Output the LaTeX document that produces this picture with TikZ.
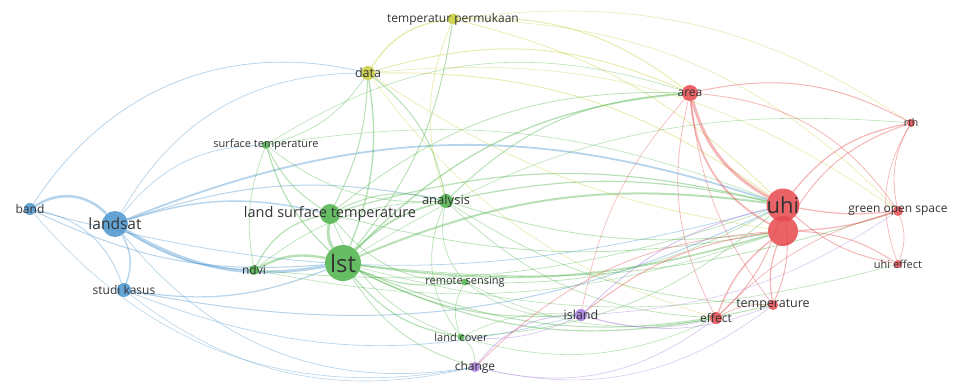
\documentclass[tikz,border=0pt]{standalone}
\usepackage{fontspec}
\setmainfont{Open Sans}
\usetikzlibrary{backgrounds}
\definecolor{cred}{RGB}{229,72,76}
\definecolor{cgreen}{RGB}{76,178,72}
\definecolor{cblue}{RGB}{72,148,206}
\definecolor{cyellow}{RGB}{200,204,54}
\definecolor{cpurple}{RGB}{164,120,222}
\begin{document}
\begin{tikzpicture}[
		x=1pt,y=-1pt,
		kw/.style={circle,inner sep=0pt,draw=none,fill opacity=0.85},
		lbl/.style={text=black!80,inner sep=0pt},
		link/.style={draw opacity=0.4}
	]
		\useasboundingbox (0,0) rectangle (953,388);
		% blue cluster
		\node[kw,fill=cblue,minimum size=12,label={[lbl,font=\fontsize{12}{12}\selectfont]center:band}] (band) at (30,209) {};
		\node[kw,fill=cblue,minimum size=26,label={[lbl,font=\fontsize{15.5}{15}\selectfont]center:landsat}] (landsat) at (115,224) {};
		\node[kw,fill=cblue,minimum size=14,label={[lbl,font=\fontsize{12}{12}\selectfont]center:studi kasus}] (studikasus) at (124,290) {};
		% green cluster
		\node[kw,fill=cgreen,minimum size=8,label={[lbl,font=\fontsize{11}{11}\selectfont]center:surface temperature}] (surftemp) at (266,145) {};
		\node[kw,fill=cgreen,minimum size=20,label={[lbl,font=\fontsize{14.5}{14}\selectfont]center:land surface temperature}] (lsttemp) at (330,214) {};
		\node[kw,fill=cgreen,minimum size=36,label={[lbl,font=\fontsize{24}{24}\selectfont]center:lst}] (lst) at (343,263) {};
		\node[kw,fill=cgreen,minimum size=10,label={[lbl,font=\fontsize{12}{12}\selectfont]center:ndvi}] (ndvi) at (254,270) {};
		\node[kw,fill=cgreen,minimum size=14,label={[lbl,font=\fontsize{13}{13}\selectfont]center:analysis}] (analysis) at (446,201) {};
		\node[kw,fill=cgreen,minimum size=7,label={[lbl,font=\fontsize{11}{11}\selectfont]center:remote sensing}] (remotesensing) at (465,282) {};
		\node[kw,fill=cgreen,minimum size=7,label={[lbl,font=\fontsize{11}{11}\selectfont]center:land cover}] (landcover) at (461,337) {};
		% yellow cluster
		\node[kw,fill=cyellow,minimum size=14,label={[lbl,font=\fontsize{12.5}{12}\selectfont]center:data}] (data) at (368,73) {};
		\node[kw,fill=cyellow,minimum size=11,label={[lbl,font=\fontsize{12}{12}\selectfont]center:temperatur permukaan}] (tempperm) at (453,19) {};
		% purple cluster
		\node[kw,fill=cpurple,minimum size=10,label={[lbl,font=\fontsize{12}{12}\selectfont]center:change}] (change) at (475,367) {};
		\node[kw,fill=cpurple,minimum size=12,label={[lbl,font=\fontsize{12.5}{12}\selectfont]center:island}] (island) at (581,315) {};
		% red cluster
		\node[kw,fill=cred,minimum size=16,label={[lbl,font=\fontsize{12}{12}\selectfont]center:area}] (area) at (690,93) {};
		\node[kw,fill=cred,minimum size=30] (urb) at (783,231) {};
		\node[kw,fill=cred,minimum size=33,label={[lbl,font=\fontsize{22}{22}\selectfont]center:uhi}] (uhi) at (783,205) {};
		\node[kw,fill=cred,minimum size=8,label={[lbl,font=\fontsize{10.5}{10}\selectfont]center:rth}] (rth) at (911,123) {};
		\node[kw,fill=cred,minimum size=10,label={[lbl,font=\fontsize{12}{12}\selectfont]center:green open space}] (greenopen) at (898,211) {};
		\node[kw,fill=cred,minimum size=8,label={[lbl,font=\fontsize{11}{11}\selectfont]center:uhi effect}] (uhieffect) at (898,264) {};
		\node[kw,fill=cred,minimum size=12,label={[lbl,font=\fontsize{12}{12}\selectfont]center:effect}] (effect) at (716,318) {};
		\node[kw,fill=cred,minimum size=10,label={[lbl,font=\fontsize{12.5}{12}\selectfont]center:temperature}] (temperature) at (773,305) {};
		\begin{scope}[on background layer]
		\foreach \a/\b/\w/\t in {band/landsat/2.6/40,band/studikasus/0.9/30,band/data/0.8/35,band/lst/1/-15,
			band/uhi/0.8/-15,band/change/0.6/-30,landsat/lst/3/-20,landsat/lsttemp/1.4/15,landsat/ndvi/1.2/-15,
			landsat/studikasus/1.4/25,landsat/data/0.7/30,landsat/uhi/1.8/20,landsat/analysis/1/15,
			landsat/change/0.7/-30,landsat/surftemp/0.7/25,studikasus/lst/1.2/-15,studikasus/uhi/1/-18,
			studikasus/island/0.7/-18,studikasus/change/0.6/-25}
			\draw[link,cblue,line width=\w pt] (\a) to[bend left=\t] (\b);
		\foreach \a/\b/\w/\t in {lst/lsttemp/3/20,lst/ndvi/2.4/-20,lst/data/1.4/-15,lst/analysis/1.8/15,
			lst/remotesensing/1.2/-15,lst/landcover/1.2/-20,lst/uhi/2/15,lst/urb/1.8/-12,lst/area/1.4/20,
			lst/effect/1.2/-18,lst/island/1/-15,lst/temperature/1/-18,lst/surftemp/1.2/15,lst/change/0.8/-20,
			lst/greenopen/0.8/-12,lst/tempperm/1/-15,lst/rth/0.6/18,lst/uhieffect/0.6/-15,
			lsttemp/ndvi/1.2/-25,lsttemp/data/1/-12,lsttemp/urb/0.8/-12,
			lsttemp/analysis/1/20,lsttemp/uhi/1.2/15,lsttemp/area/0.8/20,lsttemp/surftemp/1/15,
			lsttemp/remotesensing/0.8/-25,lsttemp/landcover/0.7/-25,ndvi/surftemp/0.7/15,ndvi/analysis/0.7/18,
			ndvi/uhi/0.7/-12,ndvi/urb/0.6/-15,surftemp/data/0.7/-20,surftemp/analysis/0.7/-20,surftemp/uhi/0.6/15,
			surftemp/area/0.6/25,analysis/data/1/-20,analysis/urb/0.8/-12,analysis/temperature/0.7/-15,
			analysis/uhi/1.2/12,analysis/area/1/20,analysis/remotesensing/0.7/-25,analysis/landcover/0.7/-30,
			analysis/effect/0.7/-20,remotesensing/uhi/0.7/-15,remotesensing/landcover/0.7/-25,
			remotesensing/effect/0.6/-18,remotesensing/island/0.6/-20,
			landcover/uhi/0.7/-18,landcover/change/0.7/25,landcover/effect/0.6/-20,landcover/island/0.6/15}
			\draw[link,cgreen,line width=\w pt] (\a) to[bend left=\t] (\b);
		\foreach \a/\b/\w/\t in {data/tempperm/1.4/25,data/area/1/20,data/uhi/0.9/18,data/urb/0.7/-12,
			data/effect/0.6/-18,data/greenopen/0.6/20,
			tempperm/area/1/20,tempperm/uhi/0.8/15,tempperm/rth/0.6/20,tempperm/analysis/0.7/-20,
			tempperm/greenopen/0.6/22}
			\draw[link,cyellow,line width=\w pt] (\a) to[bend left=\t] (\b);
		\foreach \a/\b/\w/\t in {island/change/1/-25,island/landcover/0.7/15,island/effect/0.7/-15,
			island/uhi/1/15,island/temperature/0.7/-18,island/greenopen/0.6/-15,change/effect/0.7/-25,
			change/temperature/0.6/-25}
			\draw[link,cpurple,line width=\w pt] (\a) to[bend left=\t] (\b);
		\foreach \a/\b/\w/\t in {area/uhi/3/-22,area/urb/1.8/-28,area/rth/1/20,area/greenopen/0.8/25,
			area/effect/0.7/-20,area/temperature/0.7/-15,area/island/0.6/-15,uhi/rth/1.2/20,uhi/greenopen/1.2/-8,
			uhi/uhieffect/1/-15,uhi/temperature/1/15,uhi/effect/1/15,uhi/urb/2.2/15,
			urb/greenopen/1.2/-8,urb/uhieffect/1/15,urb/rth/1/20,urb/effect/1.4/-15,
			urb/temperature/1.2/-15,urb/island/1/-15,urb/change/0.8/-20,rth/greenopen/0.8/-20,
			rth/uhieffect/0.7/-25,greenopen/uhieffect/0.7/20,greenopen/effect/0.7/-15,
			effect/temperature/0.7/15}
			\draw[link,cred,line width=\w pt] (\a) to[bend left=\t] (\b);
		\end{scope}
	\end{tikzpicture}
\end{document}
